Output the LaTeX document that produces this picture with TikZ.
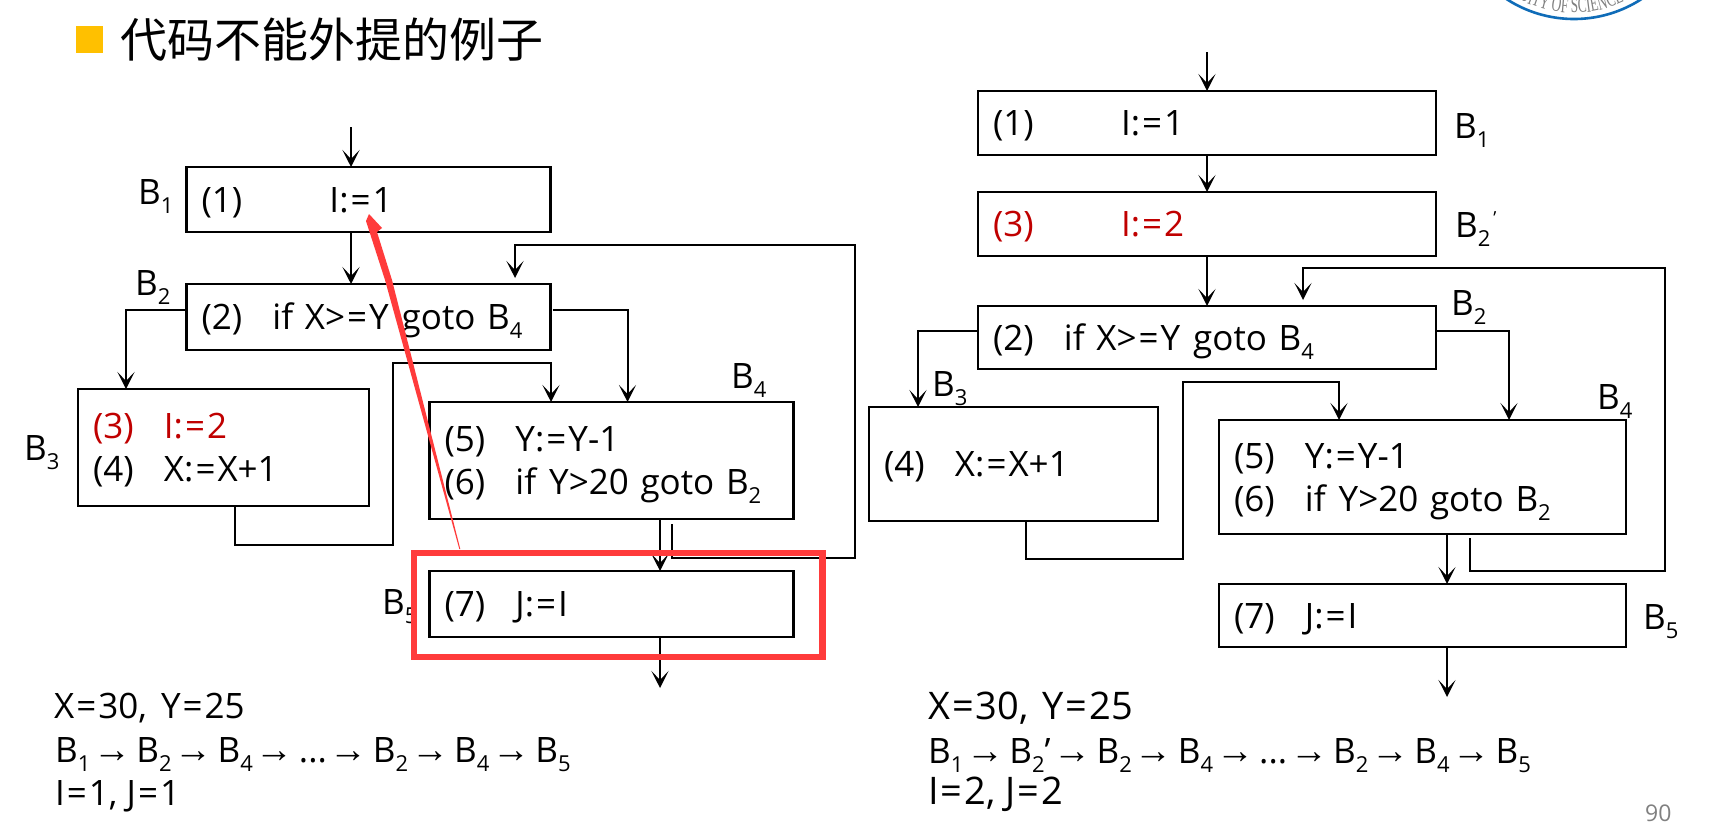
\documentclass[tikz,border=0pt]{standalone}
\usepackage{fontspec}
\usetikzlibrary{arrows.meta,decorations.text}
\setmainfont{Open Sans}
\newfontfamily\cjkfont{Noto Sans CJK SC}
\newfontfamily\arrowfont{Liberation Sans}
\newfontfamily\sealfont[FakeStretch=0.6]{Liberation Serif}
\definecolor{stmtred}{HTML}{C00000}
\definecolor{markred}{HTML}{FF3B3B}
\definecolor{bulletgold}{HTML}{FFC000}
\definecolor{sealblue}{HTML}{0F6CB8}
% subscript, equals sign and arrow used by the block labels and path lines
\newcommand\bsub[1]{\raisebox{-0.26em}{\fontsize{22}{22}\selectfont #1}}
\newcommand\eqs{\kern2pt=\kern2pt}
\newcommand\pathto{\hspace{3pt}{\arrowfont\fontsize{38}{38}\selectfont →}\hspace{5pt}}
% a code line with a fixed height, so that every line sits the same way in its box
\newcommand\codeline[1]{\rule{0pt}{25pt}\smash{#1}}
\newcommand\num[2]{\makebox[#1pt][l]{#2}}
\tikzset{
  x=1pt,y=-1pt,
  cfgbox/.style n args={2}{draw=black,line width=2.4pt,inner xsep=0pt,inner ysep=0pt,outer sep=0pt,
    minimum width=#1 pt,minimum height=#2 pt,text width=#1 pt-30pt,align=left,
    font=\fontsize{35}{43}\selectfont},
  flow/.style={draw=black,line width=2pt,-{Stealth[length=17pt,width=17pt,inset=9pt]}},
  blocklabel/.style={anchor=base west,inner sep=0pt,font=\fontsize{35}{40}\selectfont},
  pathtext/.style={anchor=base west,inner sep=0pt,font=\fontsize{35}{40}\selectfont},
}
\begin{document}
\begin{tikzpicture}
\useasboundingbox (0,0) rectangle (1715,833);
\fill[white] (0,0) rectangle (1715,833);

% heading
\fill[bulletgold] (75.5,26) rectangle (103,53);
\node[anchor=west,inner sep=0pt,font=\cjkfont\fontsize{47}{47}\selectfont] (title) at (120,40) {代码不能外提的例子};

% seal, only its lower rim shows
\begin{scope}
\clip (1480,0) rectangle (1700,40);
\draw[sealblue,line width=2.6pt] (1574,-105) circle [radius=124];
\path[decorate,decoration={text along path,text align=center,
  text={|\sealfont\fontsize{22}{22}\selectfont\color{gray}|RSITY OF SCIENCE A}}]
  (1490.6,-21.6) .. controls (1536.6,24.4) and (1611.4,24.4) .. (1657.4,-21.6);
\end{scope}

% original flow graph
\node[cfgbox={364}{65}] (b1) at (368.5,199.5) {\codeline{\num{128}{(1)}I:\eqs 1}};
\node[cfgbox={364}{66}] (b2) at (368.5,317) {\codeline{\num{71}{(2)}if X>\eqs Y\hspace{13pt}goto B\bsub{4}}};
\node[cfgbox={291}{117}] (b3) at (223.5,447.5) {\codeline{\textcolor{stmtred}{\num{71}{(3)}I:\eqs 2}}\\\codeline{\num{71}{(4)}X:\eqs X+1}};
\node[cfgbox={364}{117}] (b4) at (611.5,460.5) {\codeline{\num{71}{(5)}Y:\eqs Y-1}\\\codeline{\num{71}{(6)}if\hspace{13pt}Y>20 goto B\bsub{2}}};
\node[cfgbox={364}{66}] (b5) at (611.5,604) {\codeline{\num{71}{(7)}J:\eqs I}};

\node[blocklabel] (lb1) at (138,204) {B\bsub{1}};
\node[blocklabel] (lb2) at (135,295) {B\bsub{2}};
\node[blocklabel] (lb3) at (24,460) {B\bsub{3}};
\node[blocklabel] (lb4) at (731,388) {B\bsub{4}};
\node[blocklabel] (lb5) at (382,614) {B\bsub{5}};

\coordinate (entry) at (351,127);
\coordinate (exit) at (660,688);
\coordinate (b3lane) at (126,310);
\coordinate (b4lane) at (627.5,310);
\coordinate (b2right) at (552.5,310);
\coordinate (mergeup) at (393,363);
\coordinate (mergedrop) at (551,363);
\coordinate (b3out) at (235,545);
\coordinate (backstart) at (672,524);
\coordinate (backlow) at (855,558);
\coordinate (backhigh) at (855,245);
\coordinate (backdrop) at (515,245);
\coordinate (backend) at (515,278);

\draw[flow] (entry) -- (entry |- b1.north);
\draw[flow] (entry |- b1.south) -- (entry |- b2.north);
\draw[flow] (b3lane -| b2.west) -- (b3lane) -- (b3lane |- b3.north);
\draw[flow] (b2right) -- (b4lane) -- (b4lane |- b4.north);
\draw[flow] (b3out |- b3.south) -- (b3out) -- (mergeup |- b3out) -- (mergeup) -- (mergedrop) -- (mergedrop |- b4.north);
\draw[flow] (exit |- b4.south) -- (exit |- b5.north);
\draw[flow] (backstart) -- (backstart |- backlow) -- (backlow) -- (backhigh) -- (backdrop) -- (backend);
\draw[flow] (exit |- b5.south) -- (exit);

\node[pathtext] (p1) at (54,718) {X\eqs 30,\hspace{14pt}Y\eqs 25};
\node[pathtext] (p2) at (55,762) {B\bsub{1}\pathto B\bsub{2}\pathto B\bsub{4}\pathto ...\pathto B\bsub{2}\pathto B\bsub{4}\pathto B\bsub{5}};
\node[pathtext] (p3) at (55,805) {I\eqs 1, J\eqs 1};

% transformed flow graph
\node[cfgbox={458}{64}] (c1) at (1207,123) {\codeline{\num{128}{(1)}I:\eqs 1}};
\node[cfgbox={458}{64}] (c2p) at (1207,224) {\codeline{\textcolor{stmtred}{\num{128}{(3)}I:\eqs 2}}};
\node[cfgbox={458}{63}] (c2) at (1207,337.5) {\codeline{\num{71}{(2)}if X>\eqs Y\hspace{13pt}goto B\bsub{4}}};
\node[cfgbox={289}{114}] (c3) at (1013.5,464) {\codeline{\num{71}{(4)}X:\eqs X+1}};
\node[cfgbox={407}{114}] (c4) at (1422.5,477) {\codeline{\num{71}{(5)}Y:\eqs Y-1}\\\codeline{\num{71}{(6)}if\hspace{13pt}Y>20 goto B\bsub{2}}};
\node[cfgbox={407}{63}] (c5) at (1422.5,615.5) {\codeline{\num{71}{(7)}J:\eqs I}};

\node[blocklabel] (lc1) at (1454,138) {B\bsub{1}};
\node[blocklabel] (lc2p) at (1455,237) {B\bsub{2}\raisebox{0.35em}{\fontsize{18}{18}\selectfont\,'}};
\node[blocklabel] (lc2) at (1451,315) {B\bsub{2}};
\node[blocklabel] (lc3) at (932,396) {B\bsub{3}};
\node[blocklabel] (lc4) at (1597,409) {B\bsub{4}};
\node[blocklabel] (lc5) at (1643,629) {B\bsub{5}};

\coordinate (entryr) at (1207,52);
\coordinate (exitr) at (1447,697);
\coordinate (c3lane) at (918,331);
\coordinate (c4lane) at (1509,331);
\coordinate (mergeupr) at (1183,382);
\coordinate (mergedropr) at (1339,382);
\coordinate (c3out) at (1026,559);
\coordinate (backstartr) at (1470,538);
\coordinate (backlowr) at (1665,571);
\coordinate (backhighr) at (1665,268);
\coordinate (backdropr) at (1303,268);
\coordinate (backendr) at (1303,300);

\draw[flow] (entryr) -- (entryr |- c1.north);
\draw[flow] (entryr |- c1.south) -- (entryr |- c2p.north);
\draw[flow] (entryr |- c2p.south) -- (entryr |- c2.north);
\draw[flow] (c3lane -| c2.west) -- (c3lane) -- (c3lane |- c3.north);
\draw[flow] (c4lane -| c2.east) -- (c4lane) -- (c4lane |- c4.north);
\draw[flow] (c3out |- c3.south) -- (c3out) -- (mergeupr |- c3out) -- (mergeupr) -- (mergedropr) -- (mergedropr |- c4.north);
\draw[flow] (exitr |- c4.south) -- (exitr |- c5.north);
\draw[flow] (backstartr) -- (backstartr |- backlowr) -- (backlowr) -- (backhighr) -- (backdropr) -- (backendr);
\draw[flow] (exitr |- c5.south) -- (exitr);

\node[pathtext,font=\fontsize{38}{44}\selectfont] (q1) at (928,719) {X\eqs 30,\hspace{14pt}Y\eqs 25};
\node[pathtext] (q2) at (928,763) {B\bsub{1}\pathto B\bsub{2}'\pathto B\bsub{2}\pathto B\bsub{4}\pathto ...\pathto B\bsub{2}\pathto B\bsub{4}\pathto B\bsub{5}};
\node[pathtext,font=\fontsize{38}{44}\selectfont] (q3) at (928,804) {I\eqs 2, J\eqs 2};

% slide number
\node[anchor=base west,inner sep=0pt,text=gray,font=\fontsize{23}{23}\selectfont] (page) at (1645,821) {90};

% highlight frame and its tapering pointer
\draw[markred,line width=6.7pt] (414,553) rectangle (822.5,657);
\fill[markred] (369,214) -- (382,228) -- (377,232) -- (392,280) -- (460.3,549) -- (459.3,549) -- (385,280) -- (366,221) -- cycle;
\end{tikzpicture}
\end{document}
